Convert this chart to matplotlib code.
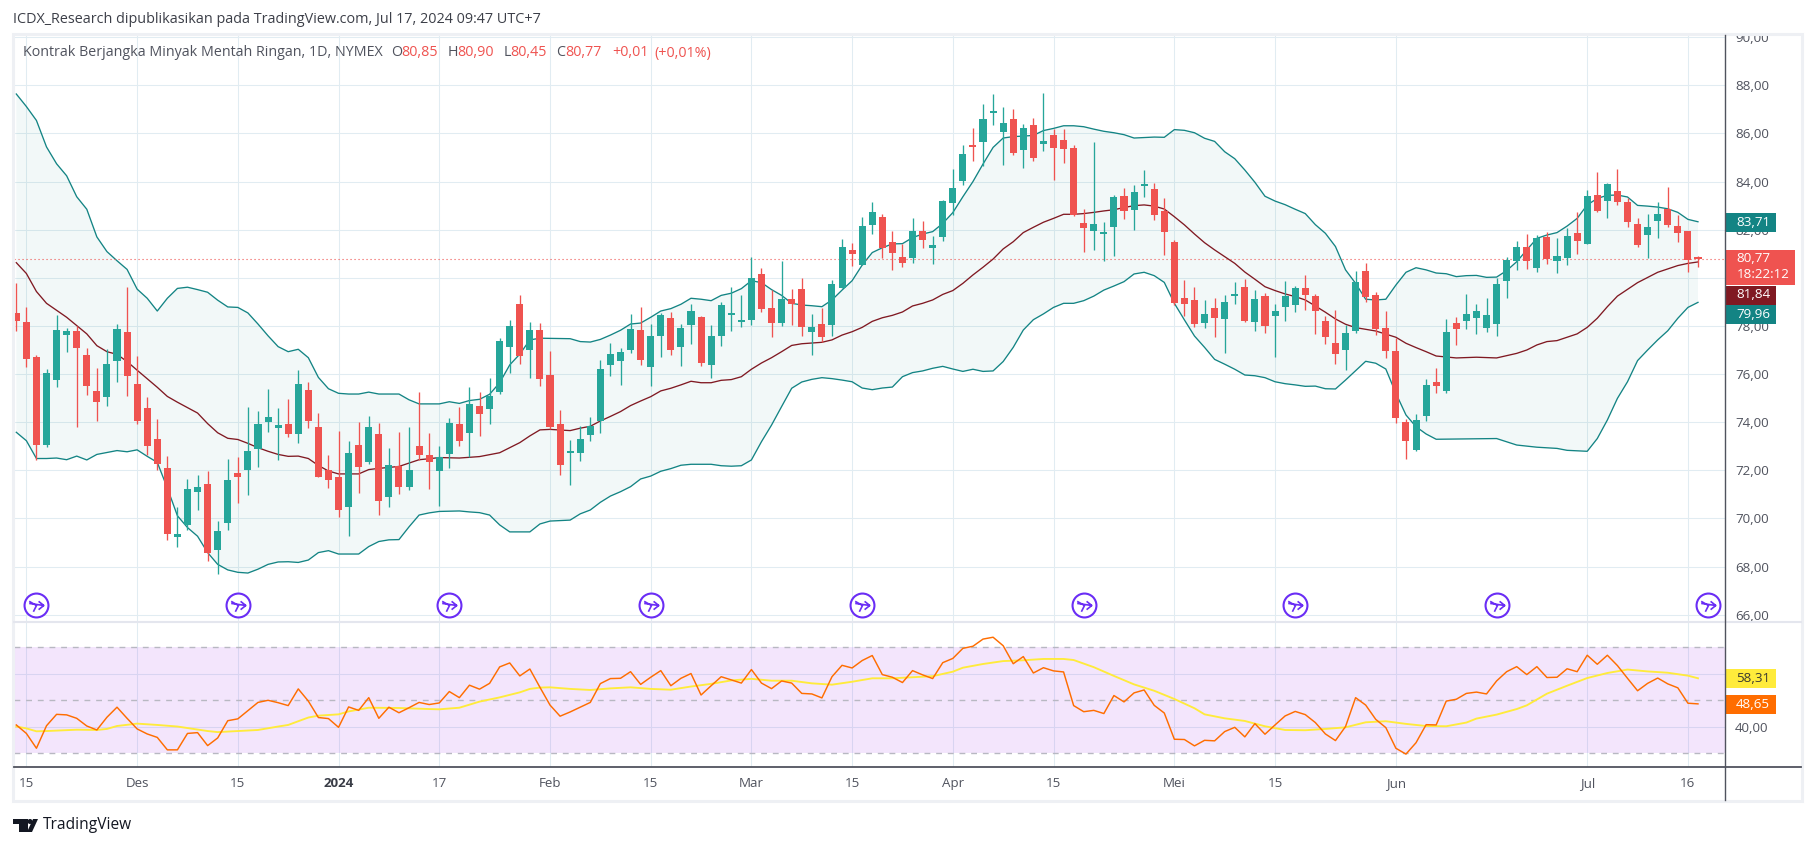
import numpy as np
import matplotlib
matplotlib.use("Agg")
import matplotlib.pyplot as plt
from matplotlib.patches import Rectangle, Circle, Polygon
from matplotlib.path import Path

plt.rcParams['font.family'] = ['Open Sans', 'DejaVu Sans']

opens = [78.54,78.18,76.72,73.07,75.76,77.64,77.80,76.80,75.30,75.06,76.55,77.75,75.60,74.60,73.31,72.10,69.24,69.73,71.11,71.44,
 68.70,69.81,71.90,72.02,72.89,74.02,73.77,73.94,73.51,75.35,73.81,72.02,71.74,70.49,73.07,72.36,73.51,70.87,72.18,71.31,
 73.02,72.64,71.98,72.68,73.93,73.55,74.67,74.55,75.26,77.13,78.91,77.00,77.83,75.96,73.93,72.72,72.72,73.47,74.05,76.38,
 76.54,77.00,77.83,76.29,77.58,78.33,77.13,78.04,78.37,76.38,77.58,78.46,78.16,78.25,80.16,78.75,78.12,79.12,79.54,77.75,
 78.08,78.04,79.58,81.16,80.53,82.20,82.53,81.49,80.87,80.82,81.95,81.24,81.70,83.11,84.02,85.48,85.64,86.85,86.06,86.60,
 85.31,86.35,85.56,85.94,85.73,85.40,82.28,81.95,81.82,82.11,83.40,82.82,83.82,83.69,82.78,81.49,79.16,79.08,78.12,78.75,
 78.29,79.24,79.62,78.16,79.24,78.41,78.79,78.87,79.58,79.24,78.21,77.29,77.00,77.79,80.28,79.29,77.91,76.96,74.01,72.84,
 74.26,75.67,75.30,78.12,78.21,78.33,77.91,78.08,79.87,80.70,81.28,80.41,81.70,80.70,80.82,81.86,81.41,83.44,83.19,83.61,
 83.15,82.24,81.78,82.36,82.86,82.15,81.95,80.85]
highs = [79.79,78.79,76.80,76.22,78.46,77.92,78.00,77.09,76.26,77.03,78.08,79.61,76.77,75.06,74.14,72.61,70.49,71.64,71.82,71.98,
 69.90,72.48,72.56,74.63,74.48,75.39,74.60,74.97,76.17,75.68,74.40,72.64,73.64,73.23,74.02,74.27,73.97,72.94,73.59,73.81,
 75.25,73.56,72.99,74.16,74.62,75.46,75.26,75.84,77.49,78.25,79.29,78.16,78.12,76.96,74.51,73.26,73.84,74.22,76.59,77.29,
 77.08,78.50,78.79,78.08,78.54,78.58,78.08,78.91,78.41,78.04,79.00,79.62,79.29,80.87,80.41,79.49,80.70,79.54,79.99,78.50,
 78.75,79.91,81.61,81.45,82.53,83.15,82.65,81.95,81.41,82.49,82.36,81.74,83.23,84.52,85.52,86.23,87.22,87.64,87.10,87.02,
 86.39,86.64,87.68,86.18,86.18,85.52,82.86,85.64,82.32,83.44,83.73,83.86,84.48,83.94,83.32,81.57,79.91,79.62,79.08,79.16,
 79.29,79.83,79.95,79.49,79.37,78.91,79.87,79.66,80.12,79.33,78.41,78.66,78.04,80.28,80.62,79.41,78.62,77.50,74.13,74.34,
 75.80,76.25,78.29,78.37,79.33,78.91,79.16,79.99,80.87,81.53,81.82,81.78,81.90,81.66,82.07,82.74,83.65,84.40,83.94,84.52,
 83.32,82.49,82.65,83.15,83.77,82.61,81.95,80.90]
lows = [77.80,76.31,72.41,72.95,75.45,76.93,73.81,75.12,74.05,74.66,75.68,75.07,73.94,72.62,72.03,69.11,68.83,69.50,70.36,68.25,
 67.69,69.53,70.65,70.98,72.15,73.59,72.44,73.40,73.15,73.77,71.74,71.28,70.06,69.27,71.06,72.25,70.16,70.49,71.03,71.19,
 72.41,71.23,70.52,72.10,73.01,72.57,73.43,73.93,75.19,76.03,76.42,75.84,75.50,73.70,71.81,71.39,72.39,73.22,73.55,75.92,
 75.55,76.88,76.38,75.50,76.71,76.79,76.34,77.25,76.34,75.84,77.17,77.79,77.96,78.04,78.58,77.54,78.00,78.04,77.58,76.79,
 77.33,77.58,79.58,80.49,80.53,81.82,80.82,80.33,80.45,80.62,81.24,80.57,81.53,82.61,83.86,84.85,84.65,86.35,84.69,85.10,
 84.56,84.85,85.27,84.07,84.77,82.57,81.07,81.16,80.70,80.91,82.44,81.99,83.36,82.40,80.95,78.87,78.41,77.96,77.91,77.54,
 76.88,78.91,78.16,77.79,77.71,76.71,78.21,78.58,78.66,77.67,77.25,76.42,76.17,77.71,79.00,77.62,76.67,73.97,72.47,72.80,
 74.05,75.21,75.21,77.21,77.87,77.67,77.75,77.58,79.16,80.33,80.37,80.24,80.57,80.20,80.53,80.99,81.41,82.74,82.49,83.03,
 82.11,81.28,80.82,81.66,82.11,81.49,80.24,80.45]
closes = [78.21,76.63,73.07,76.06,77.83,77.80,77.09,75.52,74.84,76.42,77.88,75.93,74.05,73.02,72.28,69.35,69.35,71.23,71.31,68.57,
 69.49,71.61,71.74,72.81,73.94,74.22,73.89,73.51,75.60,74.05,71.74,71.61,70.36,72.72,72.15,73.81,70.73,72.23,71.31,72.02,
 72.64,72.36,72.56,73.97,73.22,74.76,74.34,75.09,77.37,78.00,76.75,77.83,75.80,73.80,72.22,72.76,73.30,73.84,76.21,76.83,
 76.92,77.87,76.59,77.58,78.46,77.00,77.91,78.62,76.46,77.58,78.87,78.54,78.25,79.99,78.70,78.12,79.12,78.91,77.96,77.96,
 77.54,79.74,81.28,80.99,82.15,82.74,81.24,81.03,80.62,81.95,81.57,81.36,83.19,83.73,85.15,85.44,86.60,86.93,86.43,85.19,
 86.23,84.98,85.69,85.40,85.35,82.61,82.07,82.24,81.90,83.36,82.78,83.57,83.86,82.61,81.90,78.95,78.91,78.08,78.50,78.33,
 79.00,79.29,78.21,79.12,78.00,78.62,79.24,79.58,79.29,78.62,77.54,76.83,77.71,79.83,79.20,77.87,76.96,74.17,73.22,74.09,
 75.55,75.50,77.75,77.87,78.50,78.62,78.46,79.74,80.74,81.28,80.70,81.66,80.78,80.91,81.74,81.53,83.40,82.78,83.90,83.15,
 82.32,81.36,82.11,82.65,82.20,81.86,80.74,80.77]

bb_upper = [(0,87.64),(1,87.12),(2,86.54),(3,85.44),(4,84.74),(5,84.24),(6,83.37),(7,82.85),(8,81.70),(9,81.09),(10,80.71),(11,80.35),
 (12,79.53),(13,79.15),(14,78.62),(15,79.15),(16,79.56),(17,79.61),(18,79.51),(19,79.40),(20,79.07),(21,78.79),(22,78.77),(23,78.54),
 (24,78.08),(25,77.59),(26,77.14),(27,76.93),(28,77.03),(29,76.68),(30,75.86),(31,75.39),(32,75.20),(33,75.17),(34,75.17),(35,75.25),
 (36,75.17),(38,75.17),(39,74.93),(40,74.76),(42,74.76),(43,74.85),(44,74.78),(45,74.90),(46,74.95),(47,75.16),(48,75.64),(49,76.38),
 (50,76.83),(51,77.42),(52,77.49),(55,77.47),(56,77.35),(57,77.33),(58,77.44),(59,77.62),(60,77.82),(61,78.08),(62,78.12),(63,78.36),
 (64,78.62),(65,78.72),(66,78.90),(67,79.15),(68,79.11),(69,79.05),(70,79.27),(71,79.36),(72,79.55),(73,79.88),(74,79.80),(75,79.51),
 (76,79.27),(77,78.94),(78,78.87),(79,78.84),(80,78.80),(81,79.08),(82,79.49),(83,79.88),(84,80.53),(85,81.05),(86,81.25),(87,81.41),
 (88,81.42),(89,81.67),(90,81.82),(91,81.92),(92,82.26),(93,82.71),(94,83.37),(95,84.00),(96,84.73),(97,85.42),(98,85.81),(99,85.87),
 (100,85.89),(101,85.92),(102,86.12),(103,86.21),(104,86.32),(105,86.32),(106,86.28),(107,86.18),(108,86.09),(109,86.03),(110,85.95),
 (111,85.81),(112,85.83),(113,85.85),(114,85.84),(115,86.16),(116,86.13),(117,86.03),(118,85.80),(119,85.67),(120,85.24),(121,84.95),
 (122,84.48),(123,83.97),(124,83.39),(125,83.19),(126,83.04),(127,82.85),(128,82.67),(129,82.21),(130,81.85),(131,81.30),(132,80.33),
 (133,79.77),(134,79.11),(135,79.08),(136,79.11),(137,79.70),(138,80.23),(139,80.42),(140,80.33),(141,80.20),(142,80.17),(143,80.05),
 (144,80.09),(145,80.10),(146,80.02),(147,80.03),(148,80.30),(149,80.67),(150,81.16),(151,81.64),(152,81.78),(153,81.88),(154,82.15),
 (155,82.47),(156,83.03),(157,83.30),(158,83.43),(159,83.44),(160,83.36),(161,83.01),(162,82.98),(163,82.94),(164,82.87),(165,82.72),
 (166,82.43),(167,82.33)]
bb_basis = [(0,80.63),(1,80.18),(2,79.43),(3,78.94),(5,78.36),(7,77.67),(8,77.18),(9,76.93),(10,76.82),(11,76.52),(12,76.16),(14,75.45),
 (15,75.07),(16,74.83),(18,74.38),(19,73.94),(20,73.56),(21,73.33),(22,73.28),(23,73.12),(24,72.94),(25,72.79),(26,72.66),(27,72.58),
 (28,72.59),(29,72.49),(30,72.20),(31,71.97),(32,71.85),(34,71.85),(35,72.03),(36,72.08),(38,72.16),(39,72.30),(40,72.44),(41,72.48),
 (42,72.53),(44,72.51),(46,72.57),(48,72.73),(49,72.94),(50,73.15),(51,73.43),(52,73.68),(53,73.70),(55,73.65),(56,73.75),(57,73.83),
 (58,74.05),(59,74.24),(60,74.44),(61,74.69),(62,74.88),(63,75.06),(64,75.30),(65,75.41),(66,75.55),(67,75.70),(68,75.64),(69,75.64),
 (70,75.74),(71,75.77),(72,75.89),(73,76.20),(74,76.46),(75,76.68),(76,76.93),(77,77.19),(78,77.26),(79,77.29),(80,77.32),(81,77.42),
 (82,77.62),(83,77.76),(84,77.94),(85,78.19),(86,78.34),(87,78.44),(88,78.58),(89,78.83),(90,78.94),(91,79.08),(92,79.31),(93,79.47),
 (94,79.77),(95,80.12),(96,80.44),(97,80.78),(98,81.20),(99,81.50),(100,81.88),(101,82.10),(102,82.31),(103,82.47),(104,82.64),(105,82.64),
 (106,82.67),(107,82.72),(108,82.78),(109,82.83),(110,82.92),(111,83.00),(112,83.03),(113,82.98),(114,82.86),(115,82.54),(116,82.20),
 (117,81.82),(118,81.46),(119,81.16),(120,80.88),(121,80.60),(122,80.24),(123,79.94),(124,79.63),(125,79.47),(126,79.33),(127,79.22),
 (128,79.08),(129,78.83),(130,78.57),(131,78.29),(132,78.07),(133,77.93),(135,77.79),(137,77.53),(138,77.28),(139,77.10),(140,76.93),
 (141,76.75),(143,76.67),(145,76.70),(147,76.67),(149,76.86),(150,77.00),(151,77.21),(152,77.35),(153,77.39),(155,77.67),(156,77.94),
 (157,78.32),(158,78.80),(159,79.24),(160,79.52),(161,79.80),(163,80.23),(165,80.51),(166,80.60),(167,80.66)]
bb_lower = [(0,73.58),(1,73.23),(2,72.49),(3,72.49),(4,72.51),(5,72.44),(6,72.59),(7,72.43),(8,72.66),(9,72.74),(10,72.82),(11,72.77),
 (12,72.85),(13,72.58),(14,72.33),(15,71.26),(16,70.11),(17,69.62),(18,69.26),(19,68.58),(20,68.09),(21,67.86),(22,67.76),(23,67.73),
 (24,67.89),(25,68.09),(26,68.19),(27,68.20),(28,68.17),(29,68.27),(30,68.58),(31,68.66),(32,68.52),(34,68.52),(35,68.83),(36,69.04),
 (37,69.11),(38,69.12),(39,69.65),(40,70.14),(41,70.23),(42,70.29),(44,70.31),(45,70.27),(46,70.24),(47,70.14),(48,69.73),(49,69.44),
 (51,69.44),(52,69.77),(53,69.89),(55,69.93),(56,70.19),(57,70.35),(58,70.67),(59,70.93),(60,71.11),(61,71.32),(62,71.64),(63,71.76),
 (64,71.96),(65,72.07),(66,72.21),(67,72.25),(69,72.25),(70,72.19),(71,72.17),(72,72.19),(73,72.43),(74,73.19),(75,73.88),(76,74.65),
 (77,75.41),(78,75.67),(79,75.78),(80,75.85),(81,75.81),(82,75.75),(83,75.68),(84,75.42),(85,75.35),(86,75.42),(87,75.46),(88,75.89),
 (89,76.06),(90,76.13),(91,76.24),(92,76.32),(93,76.21),(94,76.11),(95,76.20),(96,76.11),(97,76.13),(98,76.52),(99,77.11),(100,77.83),
 (101,78.26),(102,78.50),(103,78.77),(104,78.94),(105,78.94),(106,79.05),(107,79.24),(108,79.49),(109,79.66),(110,79.84),(111,80.16),
 (112,80.23),(113,80.09),(114,79.81),(115,78.94),(116,78.25),(117,77.58),(118,77.11),(119,76.61),(120,76.41),(121,76.20),(122,75.96),
 (123,75.93),(124,75.85),(125,75.68),(126,75.60),(127,75.55),(128,75.49),(129,75.50),(130,75.39),(131,75.38),(132,75.75),(133,76.14),
 (134,76.53),(135,76.45),(136,76.21),(137,75.20),(138,74.30),(139,73.81),(140,73.51),(141,73.29),(147,73.32),(149,73.05),(151,72.96),
 (153,72.91),(154,72.83),(156,72.79),(157,73.32),(158,74.09),(159,74.99),(160,75.68),(161,76.56),(162,77.00),(163,77.42),(164,77.80),
 (165,78.32),(166,78.77),(167,78.98)]

rsi = [40.7,37.5,31.9,40.4,44.7,44.5,43.2,40.3,38.8,43.6,47.4,43.2,39.2,37.3,36.0,31.3,31.3,37.5,37.8,32.9,
 35.8,42.3,43.0,46.1,49.2,50.0,49.1,48.0,54.3,49.7,43.5,43.1,39.8,47.5,46.2,51.0,43.2,47.4,45.3,47.2,
 49.2,48.4,49.0,53.3,51.0,55.7,54.2,56.4,62.6,64.1,59.2,61.8,54.9,48.2,44.0,45.6,47.4,49.2,56.3,58.2,
 58.3,60.8,56.0,58.7,61.2,55.5,58.3,60.1,52.0,55.5,58.9,57.7,56.5,61.6,56.5,54.4,57.3,56.5,52.6,52.4,
 50.9,58.9,63.2,62.2,65.0,66.9,59.7,58.7,56.7,61.2,59.6,58.2,64.2,65.8,69.6,70.4,73.1,73.8,70.6,63.8,
 66.5,60.3,62.3,61.1,60.7,48.0,45.7,46.2,45.0,51.8,49.4,52.8,53.9,48.1,45.2,35.3,35.2,32.8,34.9,34.7,
 38.2,39.8,36.2,41.2,37.2,40.7,44.1,45.8,44.6,41.6,37.3,34.8,40.1,51.0,48.2,42.8,39.7,31.9,29.7,34.0,
 40.8,40.7,49.7,50.4,52.6,53.1,52.4,57.3,60.8,62.7,59.7,62.7,58.6,58.7,61.9,60.8,67.0,63.6,67.0,63.1,
 58.3,53.6,56.4,58.4,56.2,54.7,48.9,48.65]
rsi_ma = [(0,40.1),(1,39.4),(2,38.3),(3,38.4),(6,38.9),(8,38.8),(9,39.2),(10,40.3),(12,41.2),(14,40.7),(16,40.1),(19,38.4),(20,38.0),
 (22,38.4),(24,38.8),(26,40.1),(27,40.7),(29,43.5),(30,44.2),(32,44.7),(33,45.8),(35,47.2),(38,47.1),(41,46.7),(42,46.6),(44,47.2),
 (46,49.5),(48,51.1),(50,53.0),(51,54.3),(52,54.8),(53,54.9),(55,54.3),(57,53.9),(59,54.5),(61,54.9),(63,54.3),(65,54.0),(67,55.2),
 (69,56.2),(71,57.5),(73,58.1),(75,57.4),(77,57.4),(79,56.4),(81,55.9),(83,57.0),(85,58.3),(87,58.3),(89,58.7),(91,59.1),(93,60.8),
 (94,62.3),(96,63.7),(98,64.8),(100,65.1),(102,65.6),(104,65.6),(105,65.2),(107,62.5),(109,59.2),(111,56.0),(113,53.6),(115,50.5),
 (117,47.0),(118,44.7),(120,43.2),(122,42.2),(124,40.2),(126,38.8),(128,38.7),(130,39.2),(132,39.8),(134,41.7),(136,42.1),(138,41.1),
 (140,40.3),(142,40.2),(144,41.6),(145,43.1),(147,44.6),(149,46.7),(150,48.1),(152,52.5),(154,55.5),(156,58.4),(158,60.3),(160,61.6),
 (162,60.9),(164,60.4),(166,59.3),(167,58.31)]

last_price = 80.77
rollover_bars = [2, 22, 43, 63, 84, 106, 127, 147, 168]
xtick_bars = [1, 12, 22, 32, 42, 53, 63, 73, 83, 93, 103, 115, 125, 137, 156, 166]
xtick_labels = ['15', 'Des', '15', '2024', '17', 'Feb', '15', 'Mar', '15', 'Apr', '15', 'Mei', '15', 'Jun', 'Jul', '16']
price_ticks = list(range(66, 92, 2))
hidden_price_labels = [80]  # fully covered by the last-price badge in the reference
rsi_ticks = [40, 60]
rsi_levels = [30, 50, 70]

W, H = 1814, 846
UP, DOWN, TEAL, MAROON = '#26a69a', '#ef5350', '#138484', '#801922'
GRID, TXT = '#e1ecf2', '#50535e'
FS = 9.6
HEAD_FS = 10.25

fig = plt.figure(figsize=(W/100, H/100), dpi=100, facecolor='white')

def pane(l, t, r, b):
    return fig.add_axes([l/W, 1-b/H, (r-l)/W, (b-t)/H])

X0, X1 = (14-16.3)/10.07, (1724.5-16.3)/10.07
ax = pane(14, 35, 1724.5, 622)
axr = pane(14, 623, 1724.5, 767)
ax.set_xlim(X0, X1); axr.set_xlim(X0, X1)
ax.set_ylim(72+(470.3-622)/24.06, 72+(470.3-35)/24.06)
axr.set_ylim(50+(700.3-767)/2.65, 50+(700.3-623)/2.65)

for a in (ax, axr):
    for s in a.spines.values():
        s.set_visible(False)
    a.set_axisbelow(True)
    a.set_xticks(xtick_bars)
    a.grid(True, color=GRID, lw=0.75, zorder=0)
    a.yaxis.tick_right()
    a.tick_params(length=0, labelcolor=TXT, labelsize=FS, pad=7.5)
ax.tick_params(axis='x', labelbottom=False)
ax.set_yticks(price_ticks)
ax.set_yticklabels(['' if v in hidden_price_labels else f'{v:.2f}'.replace('.', ',') for v in price_ticks])
axr.set_yticks(rsi_ticks)
axr.set_yticklabels([f'{v:.2f}'.replace('.', ',') for v in rsi_ticks])
axr.set_xticklabels(xtick_labels)
for lab, t in zip(axr.get_xticklabels(), xtick_labels):
    if t == '2024':
        lab.set_fontweight('bold')
        lab.set_color('#3a3d47')

# Bollinger bands
ux, uy = zip(*bb_upper)
bx, by = zip(*bb_basis)
lx, ly = zip(*bb_lower)
ax.fill(list(ux)+list(lx[::-1]), list(uy)+list(ly[::-1]), color=(0, 137/255, 123/255), alpha=0.05, lw=0, zorder=1)
ax.plot(ux, uy, color=TEAL, lw=0.95, zorder=2)
ax.plot(lx, ly, color=TEAL, lw=0.95, zorder=2)
ax.plot(bx, by, color=MAROON, lw=0.95, zorder=2)
ax.axhline(last_price, color=DOWN, lw=0.8, ls=(0, (1, 2.6)), zorder=2.2)

# Candles
idx = np.arange(len(closes))
o, h, l, c = map(np.array, (opens, highs, lows, closes))
cols = np.where(c >= o, UP, DOWN)
ax.vlines(idx, l, h, colors=cols, lw=0.95, zorder=3)
ax.bar(idx, np.maximum(np.abs(c-o), 0.07), bottom=np.minimum(o, c), width=0.7, color=cols, lw=0, zorder=3.1)

# Rollover icons
y_icon = 72+(470.3-605)/24.06
ax.plot(rollover_bars, [y_icon]*len(rollover_bars), ls='', marker='o', ms=17.2, mfc='white', mec='#6a2df5', mew=1.5, zorder=4, clip_on=False)
arrow = Path([(-7, 4), (0, 0), (-3, -6), (-7, 2), (7, 0), (2, 4), (7, 0), (2, -4)],
             [Path.MOVETO, Path.LINETO, Path.LINETO, Path.MOVETO, Path.LINETO, Path.MOVETO, Path.LINETO, Path.LINETO])
ax.plot(rollover_bars, [y_icon]*len(rollover_bars), ls='', marker=arrow, ms=10.5, mfc='none', mec='#6a2df5', mew=1.2, zorder=4.1, clip_on=False)

# RSI pane
axr.axhspan(rsi_levels[0], rsi_levels[-1], color=(145/255, 5/255, 235/255), alpha=0.1, lw=0, zorder=1)
for v in rsi_levels:
    axr.axhline(v, color='#b8b8c2', lw=1.0, ls=(0, (4.2, 4.2)), zorder=1.5)
mx, my = zip(*rsi_ma)
axr.plot(mx, my, color='#ffeb3b', lw=1.35, zorder=2)
axr.plot(idx, rsi, color='#ff6d00', lw=1.05, zorder=3)

# Overlay in pixel space
ov = fig.add_axes([0, 0, 1, 1], zorder=5)
ov.set_xlim(0, W); ov.set_ylim(H, 0); ov.axis('off'); ov.patch.set_alpha(0)
ov.add_patch(Rectangle((1725.5, 28), 76, 7, color='white', lw=0))
ov.add_patch(Rectangle((13, 34), 1788.5, 767.5, fill=False, ec='#eef0f4', lw=2.2))
ov.plot([14, 1801], [622, 622], color='#e4e6ee', lw=1.5)
ov.plot([14, 1801], [767, 767], color=TXT, lw=1.3)
ov.plot([1724.5, 1724.5], [35, 800], color=TXT, lw=1.0)

def badge(t, b, txt, bg, fg='white', r=1776):
    ov.add_patch(Rectangle((1725, t), r-1725, b-t, color=bg, lw=0))
    ov.text(1753, (t+b)/2-0.5, txt, color=fg, ha='center', va='center', fontsize=FS)

badge(213.3, 231.7, '83,71', TEAL)
badge(286, 305, '81,84', MAROON)
badge(305, 324, '79,96', TEAL)
ov.add_patch(Rectangle((1725, 250), 70, 35, color=DOWN, lw=0))
ov.text(1753, 258, '80,77', color='white', ha='center', va='center', fontsize=FS)
ov.text(1763, 274, '18:22:12', color='white', ha='center', va='center', fontsize=FS)
badge(669.3, 687.7, '58,31', '#ffeb3b', fg='#3a3a30')
badge(695, 714, '48,65', '#ff6d00')

# Header texts
ov.text(13, 19.5, 'ICDX_Research dipublikasikan pada TradingView.com, Jul 17, 2024 09:47 UTC+7',
        color='#3c3f48', fontsize=10.4, va='center')
ov.text(23, 53, 'Kontrak Berjangka Minyak Mentah Ringan, 1D, NYMEX', color=TXT, fontsize=HEAD_FS, va='center')
for x, s, col in [(391.5, 'O', TXT), (401.5, '80,85', DOWN), (447.5, 'H', TXT), (457.3, '80,90', DOWN),
                  (504, 'L', TXT), (510.7, '80,45', DOWN), (556.5, 'C', TXT), (565.7, '80,77', DOWN),
                  (612.3, '+0,01', DOWN), (654, '(+0,01%)', DOWN)]:
    ov.text(x, 53, s, color=col, fontsize=HEAD_FS, va='center')

# TradingView logo
ov.add_patch(Rectangle((13, 819), 15, 5, color='#131722', lw=0))
ov.add_patch(Rectangle((19, 819), 9, 13, color='#131722', lw=0))
ov.add_patch(Circle((30, 821.5), 2.5, color='#131722', lw=0))
ov.add_patch(Polygon([(33, 819), (38, 819), (32, 832), (27, 832)], color='#131722', lw=0))
ov.text(43, 825, 'TradingView', color='#131722', fontsize=11.2, va='center')

fig.savefig('out.png', dpi=100, facecolor='white')
